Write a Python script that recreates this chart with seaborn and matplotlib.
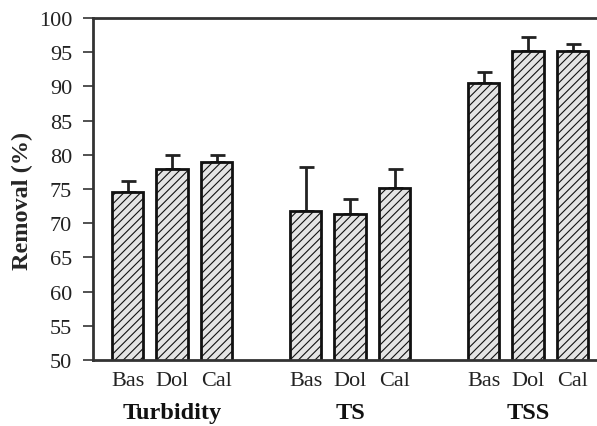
import numpy as np
import pandas as pd
import matplotlib
matplotlib.use("Agg")
import matplotlib.pyplot as plt
import matplotlib.transforms as mtransforms
import seaborn as sns

# Removal efficiency (%) per parameter and filter medium
groups = ["Turbidity", "TS", "TSS"]
media = ["Bas", "Dol", "Cal"]
turbidity_removal = [74.5, 77.9, 78.9]
ts_removal = [71.8, 71.4, 75.2]
tss_removal = [90.5, 95.2, 95.2]
turbidity_err = [1.7, 2.0, 1.0]
ts_err = [6.4, 2.2, 2.7]
tss_err = [1.6, 2.0, 1.0]
y_ticks = [50, 55, 60, 65, 70, 75, 80, 85, 90, 95, 100]

sns.set_style("white")
plt.rcParams["font.family"] = ["Liberation Serif", "DejaVu Serif"]
plt.rcParams["hatch.color"] = "#c6c6c6"
plt.rcParams["hatch.linewidth"] = 0.8

removal = [turbidity_removal, ts_removal, tss_removal]
errors = [turbidity_err, ts_err, tss_err]
rows = []
for gi, g in enumerate(groups):
    for mi, m in enumerate(media):
        rows.append({"group": g, "medium": m, "pos": gi * 4 + mi,
                     "removal": removal[gi][mi], "err": errors[gi][mi]})
df = pd.DataFrame(rows)

fig = plt.figure(figsize=(5.97, 4.27), dpi=100)
ax = fig.add_axes([0.1558, 0.1546, 0.8442, 0.8009])

sns.barplot(data=df, x="pos", y="removal", native_scale=True, width=0.7,
            color="#e4e4e4", edgecolor="#111111", linewidth=2.0,
            hatch="////", errorbar=None, ax=ax, zorder=2)

# one-sided (upper) standard deviation bars
ax.errorbar(df["pos"], df["removal"], yerr=[np.zeros(len(df)), df["err"]],
            fmt="none", ecolor="#222222", elinewidth=2.0, capsize=5.4,
            capthick=2.0, zorder=1)

ax.set_ylim(50, 100)
ax.set_xlim(-0.775, 10.55)
ax.set_yticks(y_ticks)
ax.set_yticklabels([str(t) for t in y_ticks])
ax.set_xticks(df["pos"])
ax.set_xticklabels(df["medium"])
ax.tick_params(axis="x", length=0, pad=8, labelsize=16)
ax.tick_params(axis="y", direction="out", length=7, width=1.2, pad=8,
               labelsize=16, color="#333333", left=True)
for lab in ax.get_yticklabels() + ax.get_xticklabels():
    lab.set_color("#222222")

ax.set_xlabel("")
ax.set_ylabel("Removal (%)", fontsize=17.5, fontweight="bold")
ax.yaxis.set_label_coords(-0.119, 0.468)

for side in ["left", "top", "bottom"]:
    ax.spines[side].set_visible(True)
    ax.spines[side].set_linewidth(2.0)
    ax.spines[side].set_color("#333333")
ax.spines["right"].set_visible(False)

trans = mtransforms.blended_transform_factory(ax.transData, ax.transAxes)
for gi, g in enumerate(groups):
    ax.text(gi * 4 + 1, -0.155, g, transform=trans, ha="center", va="center",
            fontsize=17.5, fontweight="bold", color="#111111")

fig.savefig("out.png", dpi=100)
